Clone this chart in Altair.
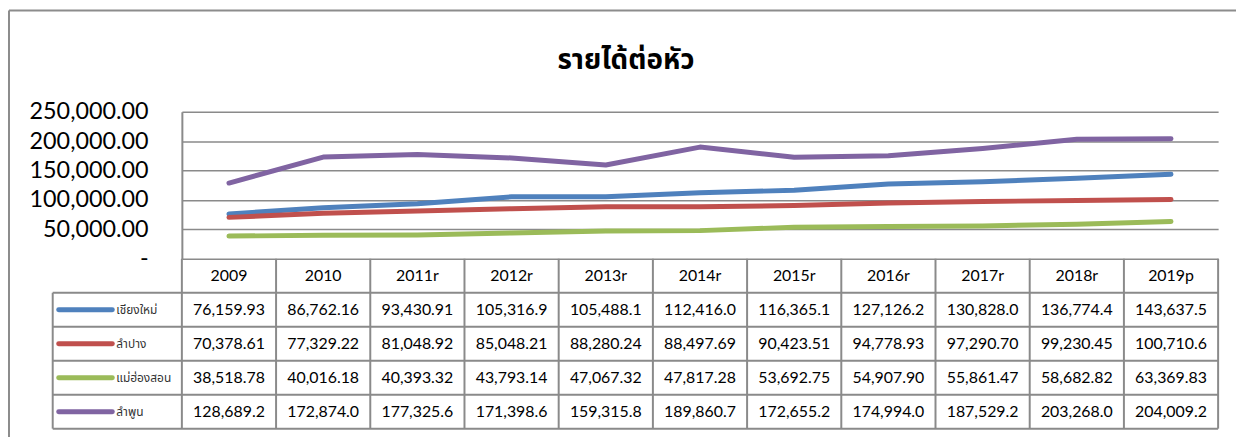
import altair as alt
import pandas as pd

years = ["2009", "2010", "2011r", "2012r", "2013r", "2014r", "2015r", "2016r", "2017r", "2018r", "2019p"]
series = ["เชียงใหม่", "ลำปาง", "แม่ฮ่องสอน", "ลำพูน"]
colors = ["#4F81BD", "#C0504D", "#9BBB59", "#8064A2"]

chiang_mai = [76159.93, 86762.16, 93430.91, 105316.9, 105488.1, 112416.0, 116365.1, 127126.2, 130828.0, 136774.4, 143637.5]
lampang = [70378.61, 77329.22, 81048.92, 85048.21, 88280.24, 88497.69, 90423.51, 94778.93, 97290.70, 99230.45, 100710.6]
mae_hong_son = [38518.78, 40016.18, 40393.32, 43793.14, 47067.32, 47817.28, 53692.75, 54907.90, 55861.47, 58682.82, 63369.83]
lamphun = [128689.2, 172874.0, 177325.6, 171398.6, 159315.8, 189860.7, 172655.2, 174994.0, 187529.2, 203268.0, 204009.2]

y_ticks = [0, 50000, 100000, 150000, 200000, 250000]
title_text = "รายได้ต่อหัว"

# ---- layout constants (pixels) ----
W = 1043          # plot width (table + lines)
H = 319           # total plot height (lines + table)
LINE_H = 148      # height of line chart part
LEG_W = 130       # legend column width
GRID = "#8a8a8a"
NUM_FONT = "Lato"
THAI_FONT = "Noto Sans Thai, Tahoma, sans-serif"

rows = ["_hdr"] + series
band_h = (H - LINE_H) / len(rows)

vals = [chiang_mai, lampang, mae_hong_son, lamphun]
df = pd.DataFrame(
    [{"year": y, "series": s, "row": s, "value": v[i]}
     for s, v in zip(series, vals) for i, y in enumerate(years)]
)
df_years = pd.DataFrame({"year": years, "row": ["_hdr"] * len(years)})
df_rows = pd.DataFrame({"row": rows})
df_leg = pd.DataFrame({"row": series, "series": series})
one = pd.DataFrame({"k": [0]})

xscale = alt.Scale(type="band", domain=years, paddingInner=0, paddingOuter=0)
rowscale = alt.Scale(type="band", domain=rows, range=[LINE_H, H], paddingInner=0, paddingOuter=0)
colscale = alt.Scale(domain=series, range=colors)

lines = alt.Chart(df).mark_line(strokeWidth=5, strokeCap="round", strokeJoin="round").encode(
    x=alt.X("year:N", scale=xscale, bandPosition=0.5, axis=None),
    y=alt.Y("value:Q", scale=alt.Scale(domain=[0, 250000], range=[LINE_H, 0]),
            axis=alt.Axis(values=y_ticks, grid=True, gridColor=GRID, gridWidth=1.5,
                          domain=True, domainColor=GRID, domainWidth=2, ticks=False,
                          labelFont=NUM_FONT, labelFontSize=23.5, labelColor="black",
                          labelPadding=34, title=None,
                          labelExpr="datum.value == 0 ? '-\u00a0\u00a0\u00a0' : format(datum.value, ',.2f')")),
    color=alt.Color("series:N", scale=colscale, legend=None),
    detail="series:N",
)

hdr_text = alt.Chart(df_years).mark_text(font=NUM_FONT, fontSize=16, color="black").encode(
    x=alt.X("year:N", scale=xscale, bandPosition=0.5, axis=None),
    y=alt.Y("row:N", scale=rowscale, bandPosition=0.5, axis=None),
    text="year:N",
)

cell_text = alt.Chart(df).mark_text(font=NUM_FONT, fontSize=16, color="black").transform_calculate(
    label="datum.value >= 100000 ? format(datum.value, ',.1f') : format(datum.value, ',.2f')"
).encode(
    x=alt.X("year:N", scale=xscale, bandPosition=0.5, axis=None),
    y=alt.Y("row:N", scale=rowscale, bandPosition=0.5, axis=None),
    text="label:N",
)

row_lines = alt.Chart(df_rows).mark_rule(color=GRID, strokeWidth=2).encode(
    y=alt.Y("row:N", scale=rowscale, bandPosition=1, axis=None),
    x=alt.value(-LEG_W), x2=alt.value(W),
)

col_lines = alt.Chart(df_years).mark_rule(color=GRID, strokeWidth=2).encode(
    x=alt.X("year:N", scale=xscale, bandPosition=0, axis=None),
    y=alt.value(LINE_H), y2=alt.value(H),
)

right_edge = alt.Chart(one).mark_rule(color=GRID, strokeWidth=2).encode(
    x=alt.value(W), y=alt.value(LINE_H), y2=alt.value(H),
)
leg_edge = alt.Chart(one).mark_rule(color=GRID, strokeWidth=2).encode(
    x=alt.value(-LEG_W), y=alt.value(LINE_H + band_h), y2=alt.value(H),
)

swatch = alt.Chart(df_leg).mark_rule(strokeWidth=5, strokeCap="round").encode(
    y=alt.Y("row:N", scale=rowscale, bandPosition=0.5, axis=None),
    x=alt.value(-LEG_W + 6), x2=alt.value(-LEG_W + 60),
    color=alt.Color("series:N", scale=colscale, legend=None),
)
leg_text = alt.Chart(df_leg).mark_text(font=THAI_FONT, fontSize=12, color="#333333", align="left").encode(
    y=alt.Y("row:N", scale=rowscale, bandPosition=0.5, axis=None),
    x=alt.value(-LEG_W + 64),
    text="series:N",
)

frame_left = alt.Chart(one).mark_rule(color="#8c8c8c", strokeWidth=2).encode(
    x=alt.value(-174), y=alt.value(-102), y2=alt.value(H + 20),
)
frame_top = alt.Chart(one).mark_rule(color="#8c8c8c", strokeWidth=2).encode(
    y=alt.value(-102), x=alt.value(-174), x2=alt.value(W + 30),
)

title = alt.Chart(pd.DataFrame({"t": [title_text]})).mark_text(
    font=THAI_FONT, fontSize=28, fontWeight="bold", color="black", align="center", baseline="alphabetic"
).encode(x=alt.value(447), y=alt.value(-43), text="t:N")

chart = alt.layer(
    lines, row_lines, col_lines, right_edge, leg_edge, hdr_text, cell_text,
    swatch, leg_text, frame_left, frame_top, title
).resolve_scale(y="independent").properties(
    width=W, height=H,
    autosize=alt.AutoSizeParams(type="none"),
    padding={"left": 175, "top": 103, "right": 18, "bottom": 7},
).configure_view(stroke=None)

chart.save("out.html", embed_options={"renderer": "svg", "actions": False})
